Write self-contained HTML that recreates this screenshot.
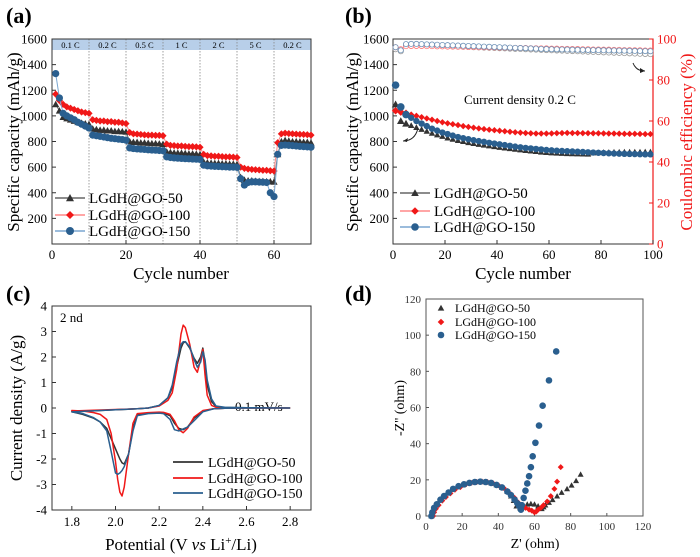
<!DOCTYPE html>
<html><head><meta charset="utf-8"><style>
body{margin:0;background:#fff}
svg,svg text{display:block;font-family:"Liberation Serif","Times New Roman",serif}
</style></head><body>
<svg id="fig" width="700" height="557" viewBox="0 0 700 557" xmlns="http://www.w3.org/2000/svg" font-family="Liberation Serif, serif"></svg>
<script>
// ---------- Panel (a) data ----------
const aCycles=[1,2,3,4,5,6,7,8,9,10,11,12,13,14,15,16,17,18,19,20,21,22,23,24,25,26,27,28,29,30,31,32,33,34,35,36,37,38,39,40,41,42,43,44,45,46,47,48,49,50,51,52,53,54,55,56,57,58,59,60,61,62,63,64,65,66,67,68,69,70];
const aS50=[1090,1040,990,980,970,960,950,945,940,935,900,895,890,890,885,885,880,880,878,875,800,795,795,790,790,788,785,785,783,780,720,715,712,710,710,708,705,705,703,700,640,635,632,630,630,628,628,625,625,622,520,500,495,495,492,490,490,488,488,485,700,800,810,805,800,800,798,795,795,790];
const aS100=[1170,1120,1090,1070,1060,1050,1040,1030,1025,1020,970,965,960,960,955,955,950,950,945,940,870,860,858,855,852,850,850,848,848,845,780,770,768,765,765,762,760,760,758,755,700,690,688,685,685,682,680,680,678,675,600,590,585,582,580,578,575,575,572,570,790,860,865,862,860,858,856,855,853,850];
const aS150=[1330,1140,1020,1000,985,970,950,935,920,905,850,845,840,835,830,825,822,818,815,810,750,745,742,740,738,735,733,732,730,728,680,675,672,670,668,666,665,663,662,660,615,610,608,606,605,603,602,600,600,598,510,460,480,485,485,483,482,480,400,370,700,770,772,770,768,765,762,760,758,755];
const aRates=["0.1 C","0.2 C","0.5 C","1 C","2 C","5 C","0.2 C"];
const aXTicks=[0,20,40,60];
const capTicks=[200,400,600,800,1000,1200,1400,1600];
// ---------- Panel (b) data ----------
const bCycles=[1,3,5,7,9,11,13,15,17,19,21,23,25,27,29,31,33,35,37,39,41,43,45,47,49,51,53,55,57,59,61,63,65,67,69,71,73,75,77,79,81,83,85,87,89,91,93,95,97,99];
const bS50=[1090,960,940,925,910,895,880,865,852,840,828,818,808,800,792,785,778,772,766,760,755,750,745,740,735,730,726,722,718,715,712,710,708,706,705,704,703,702,712,714,716,716,717,717,718,718,718,718,719,719];
const bS100=[1040,1030,1020,1010,1000,990,980,970,960,950,942,935,928,920,914,908,902,897,892,888,884,880,876,872,869,866,864,862,862,862,863,865,866,867,866,866,865,865,864,864,863,862,862,861,860,860,860,859,858,858];
const bS150=[1240,1070,1010,985,960,940,920,900,885,870,858,846,835,826,818,810,803,797,790,784,778,772,766,760,755,750,746,742,738,734,731,728,726,724,722,720,718,716,714,712,710,708,706,705,704,703,702,701,700,700];
const bCE50=[95,94,97,97.2,97.2,97,96.9,96.8,96.7,96.6,96.5,96.4,96.3,96.2,96.1,96,95.9,95.8,95.7,95.6,95.5,95.4,95.3,95.2,95.1,95,94.9,94.8,94.7,94.6,94.5,94.4,94.3,94.2,94.1,94,93.9,93.8,93.7,93.6,93.5,93.4,93.3,93.2,93.1,93,92.9,92.8,92.7,92.6];
const bCE100=[96,95,96.5,96.6,96.6,96.6,96.5,96.5,96.4,96.4,96.3,96.3,96.2,96.2,96.1,96.1,96,96,95.9,95.9,95.8,95.8,95.7,95.7,95.6,95.6,95.5,95.5,95.4,95.4,95.3,95.3,95.2,95.2,95.1,95.1,95,95,94.9,94.9,94.8,94.8,94.7,94.7,94.6,94.6,94.5,94.5,94.4,94.4];
const bCE150=[96,94.5,97.5,97.6,97.6,97.5,97.4,97.3,97.2,97.1,97,96.9,96.8,96.7,96.6,96.5,96.4,96.3,96.2,96.1,96,95.9,95.8,95.7,95.6,95.5,95.4,95.3,95.2,95.1,95,94.95,94.9,94.85,94.8,94.75,94.7,94.65,94.6,94.55,94.5,94.45,94.4,94.35,94.3,94.25,94.2,94.15,94.1,94.05];
const bXTicks=[0,20,40,60,80,100];
const ceTicks=[0,20,40,60,80,100];
// ---------- Panel (c) data ----------
const cCathV=[2.8,2.6,2.5,2.45,2.4,2.36,2.33,2.31,2.29,2.27,2.25,2.22,2.2,2.15,2.1,2.08,2.06,2.04,2.03,2.02,2.01,2.0,1.98,1.96,1.93,1.9,1.85,1.8];
const cCath50=[0,0,-0.01,-0.03,-0.12,-0.4,-0.75,-0.85,-0.8,-0.6,-0.3,-0.2,-0.18,-0.2,-0.25,-0.8,-1.8,-2.2,-2.15,-2.0,-1.8,-1.6,-1.2,-0.8,-0.55,-0.4,-0.25,-0.15];
const cCath100=[0,0,-0.01,-0.03,-0.1,-0.35,-0.8,-0.97,-0.85,-0.5,-0.25,-0.17,-0.16,-0.18,-0.22,-0.6,-1.8,-3.1,-3.45,-3.3,-2.8,-2.1,-1.0,-0.45,-0.25,-0.18,-0.12,-0.1];
const cCath150=[0,0,-0.01,-0.03,-0.15,-0.5,-0.75,-0.82,-0.9,-0.85,-0.45,-0.22,-0.2,-0.22,-0.3,-0.9,-1.8,-2.3,-2.45,-2.55,-2.6,-2.55,-1.7,-0.9,-0.55,-0.38,-0.22,-0.15];
const cAnodV=[1.8,2.0,2.1,2.15,2.2,2.24,2.26,2.28,2.3,2.31,2.32,2.34,2.36,2.375,2.39,2.4,2.41,2.42,2.44,2.46,2.5,2.6,2.8];
const cAnod50=[-0.15,-0.07,-0.03,0,0.1,0.4,0.8,1.6,2.35,2.55,2.6,2.35,1.95,1.75,2.0,2.35,1.8,0.9,0.25,0.06,0.02,0.01,0];
const cAnod100=[-0.12,-0.06,-0.03,0,0.08,0.3,0.6,1.5,2.9,3.25,3.15,2.5,1.6,1.4,1.9,2.3,1.3,0.5,0.1,0.03,0.01,0.01,0];
const cAnod150=[-0.15,-0.07,-0.03,0,0.1,0.4,0.9,1.8,2.5,2.6,2.6,2.4,1.9,1.6,1.8,2.2,1.9,1.1,0.35,0.08,0.03,0.01,0];
const cXTicks=[1.8,2.0,2.2,2.4,2.6,2.8];
const cYTicks=[-4,-3,-2,-1,0,1,2,3,4];
// ---------- Panel (d) data ----------
const d150Re=[3,3.5,4.5,6,8,10,12.5,15,18,21,24,27,30,33,36,39,42,45,47,49,50.5,51.5,52.5,53,54,55,56,57,58,59,60.5,62.5,64.5,68,72];
const d150Im=[0,2,4.5,6.5,9,11,13,15,16.5,17.5,18.3,18.8,19,18.8,18.3,17.2,15.8,13.5,11.5,9,7,5.5,3.5,6,10,14,18,22,27,33,40.5,50,61,75,91];
const d100Re=[4,4.5,5.5,7,9,11,13.5,16,19,22,25,28,31,34,37,40,43,45,47,49,51,53,55,57,58.5,60,61,62,63.5,65,67,69,71,72.5,74.5];
const d100Im=[0,2,4,6,8.5,10.5,12.5,14.5,16,17.5,18.3,18.8,19,18.8,18.2,17,15.5,13.8,12,10,7.5,5.5,4.5,3.5,3,2,2.5,3.5,4.5,6,8,11,15,19,27];
const d50Re=[3,3.5,4.5,6,8,10,12.5,15,18,21,24,27,30,33,36,39,42,45,47,48.5,50,52,54,56,58,60,62,64,65,66,68,70,72.5,75,78,80.5,83,85.5];
const d50Im=[0,2,4.5,6.5,9,11,13,15,16.5,17.5,18.3,18.8,19,18.8,18.3,17.2,15.8,13.5,11,8.5,5.5,4.5,5.5,6.5,6.8,6.5,5.5,4,5,6,7.5,9,11,13,15,17,19.5,23];
const dTicks=[0,20,40,60,80,100,120];

const NS="http://www.w3.org/2000/svg";
const svg=document.getElementById('fig');
function el(tag,attrs,parent,text){const e=document.createElementNS(NS,tag);for(const k in attrs)e.setAttribute(k,attrs[k]);if(tag==='text')e.setAttribute('font-family','Liberation Serif, serif');if(text!==undefined)e.textContent=text;(parent||svg).appendChild(e);return e;}
function grp(name){const g=el('g',{});return g;}
function lin(d0,d1,r0,r1){return v=>r0+(v-d0)*(r1-r0)/(d1-d0);}
function marker(g,type,x,y,r,fill,stroke){
  if(type==='tri') return el('path',{d:`M${x} ${y-r} L${x+r} ${y+r*0.8} L${x-r} ${y+r*0.8}Z`,fill:fill,stroke:stroke||'none','stroke-width':0.6},g);
  if(type==='dia') return el('path',{d:`M${x} ${y-r} L${x+r} ${y} L${x} ${y+r} L${x-r} ${y}Z`,fill:fill,stroke:stroke||'none','stroke-width':0.6},g);
  return el('circle',{cx:x,cy:y,r:r,fill:fill,stroke:stroke||'none','stroke-width':0.8},g);
}
const BLK='#333333',RED='#f01818',BLU='#2a5f8f';

// ===== Panel (a) =====
(function(){
 const g=grp('panel-a');
 const X=lin(0,70,52,311),Y=lin(0,1600,244,39);
 el('text',{x:6,y:23,'font-size':22,'font-weight':'bold'},g,'(a)');
 el('rect',{x:52,y:39,width:259,height:11,fill:'#b8cfe9'},g);
 for(let i=1;i<7;i++){el('line',{x1:X(i*10),x2:X(i*10),y1:39,y2:244,stroke:'#888','stroke-dasharray':'1.5,1.5','stroke-width':0.8},g);}
 aRates.forEach((t,i)=>{const tx=el('text',{x:X(i*10+5),y:48,'font-size':8.5,'text-anchor':'middle'},g,t);});
 el('rect',{x:52,y:39,width:259,height:205,fill:'none',stroke:'#333','stroke-width':1},g);
 capTicks.forEach(v=>{el('line',{x1:52,x2:56,y1:Y(v),y2:Y(v),stroke:'#333'},g);el('text',{x:47,y:Y(v)+4.5,'font-size':13,'text-anchor':'end'},g,v);});
 aXTicks.forEach(v=>{el('line',{x1:X(v),x2:X(v),y1:244,y2:240,stroke:'#333'},g);el('text',{x:X(v),y:259,'font-size':13,'text-anchor':'middle'},g,v);});
 const yt=el('text',{x:0,y:0,'font-size':17,'text-anchor':'middle',transform:`translate(19,142) rotate(-90)`},g,'Specific capacity (mAh/g)');
 const xt=el('text',{x:181,y:279,'font-size':17,'text-anchor':'middle'},g,'Cycle number');
 [[aS50,BLK,'tri','#666'],[aS100,RED,'dia','#f88'],[aS150,BLU,'circ','#7aa6d0']].forEach(([s,c,m,lc])=>{
  const sg=el('g',{},g);
  el('polyline',{points:aCycles.map((x,i)=>X(x)+','+Y(s[i])).join(' '),fill:'none',stroke:lc,'stroke-width':1},sg);
  aCycles.forEach((x,i)=>{const mk=marker(sg,m,X(x),Y(s[i]),3.6,c);});
 });
 [['LGdH@GO-50',BLK,'tri','#666',198],['LGdH@GO-100',RED,'dia','#f88',215],['LGdH@GO-150',BLU,'circ','#7aa6d0',231]].forEach(([t,c,m,lc,y])=>{
  const lg=el('g',{},g);
  el('line',{x1:55,x2:85,y1:y,y2:y,stroke:lc,'stroke-width':1.5},lg);marker(lg,m,70,y,4,c);
  el('text',{x:89,y:y+5,'font-size':15},lg,t);
 });
})();

// ===== Panel (b) =====
(function(){
 const g=grp('panel-b');
 const X=lin(0,100,393,653),Y=lin(0,1600,244,39),Y2=lin(0,100,244,39);
 el('text',{x:345,y:23,'font-size':22,'font-weight':'bold'},g,'(b)');
 el('rect',{x:393,y:39,width:260,height:205,fill:'none',stroke:'#333','stroke-width':1},g);
 el('line',{x1:653,x2:653,y1:39,y2:244,stroke:RED,'stroke-width':1.2},g);
 capTicks.forEach(v=>{el('line',{x1:393,x2:397,y1:Y(v),y2:Y(v),stroke:'#333'},g);el('text',{x:389,y:Y(v)+4.5,'font-size':13,'text-anchor':'end'},g,v);});
 ceTicks.forEach(v=>{el('line',{x1:649,x2:653,y1:Y2(v),y2:Y2(v),stroke:RED},g);el('text',{x:657,y:Y2(v)+4.5,'font-size':13,fill:RED},g,v);});
 bXTicks.forEach(v=>{el('line',{x1:X(v),x2:X(v),y1:244,y2:240,stroke:'#333'},g);el('text',{x:X(v),y:259,'font-size':13,'text-anchor':'middle'},g,v);});
 const yt=el('text',{x:0,y:0,'font-size':17,'text-anchor':'middle',transform:`translate(358,142) rotate(-90)`},g,'Specific capacity (mAh/g)');
 const yt2=el('text',{x:0,y:0,'font-size':17,'text-anchor':'middle',fill:RED,transform:`translate(692,142) rotate(-90)`},g,'Coulombic efficiency (%)');
 const xt=el('text',{x:523,y:279,'font-size':17,'text-anchor':'middle'},g,'Cycle number');
 [[bCE50,'#999'],[bCE100,'#f77'],[bCE150,'#6f93b8']].forEach(([s,c])=>{
  const sg=el('g',{},g);
  bCycles.forEach((x,i)=>{const mk=el('circle',{cx:X(x),cy:Y2(s[i]),r:2.6,fill:'#fff',stroke:c,'stroke-width':0.8},sg);});
 });
 [[bS100,RED,'dia'],[bS50,BLK,'tri'],[bS150,BLU,'circ']].forEach(([s,c,m])=>{
  const sg=el('g',{},g);
  bCycles.forEach((x,i)=>{const mk=marker(sg,m,X(x),Y(s[i]),i<3?3.8:3.2,c);});
 });
 const an=el('text',{x:464,y:104,'font-size':13},g,'Current density 0.2 C');
 el('path',{d:'M418 128 Q415 141 403 141',fill:'none',stroke:'#222','stroke-width':1},g);
 el('path',{d:'M403 141 l5 -3 l-1 4z',fill:'#222'},g);
 el('path',{d:'M633 63 Q636 71 645 71',fill:'none',stroke:'#222','stroke-width':1},g);
 el('path',{d:'M645 71 l-5 -3 l0 5z',fill:'#222'},g);
 [['LGdH@GO-50',BLK,'tri','#666',193],['LGdH@GO-100',RED,'dia','#f88',211],['LGdH@GO-150',BLU,'circ','#7aa6d0',227]].forEach(([t,c,m,lc,y])=>{
  const lg=el('g',{},g);
  el('line',{x1:400,x2:430,y1:y,y2:y,stroke:lc,'stroke-width':1.5},lg);marker(lg,m,415,y,3.8,c);
  el('text',{x:434,y:y+5,'font-size':15},lg,t);
 });
})();

// ===== Panel (c) =====
(function(){
 const g=grp('panel-c');
 const X=lin(1.7,2.9,50,312),Y=lin(-4,4,510,306);
 el('text',{x:6,y:301,'font-size':22,'font-weight':'bold'},g,'(c)');
 el('rect',{x:52,y:306,width:259,height:204,fill:'none',stroke:'#333','stroke-width':1},g);
 cYTicks.forEach(v=>{el('line',{x1:52,x2:56,y1:Y(v),y2:Y(v),stroke:'#333'},g);el('text',{x:47,y:Y(v)+4.5,'font-size':13,'text-anchor':'end'},g,v);});
 cXTicks.forEach(v=>{el('line',{x1:X(v),x2:X(v),y1:510,y2:506,stroke:'#333'},g);el('text',{x:X(v),y:526,'font-size':13,'text-anchor':'middle'},g,v.toFixed(1));});
 const yt=el('text',{x:0,y:0,'font-size':17,'text-anchor':'middle',transform:`translate(22,408) rotate(-90)`},g,'Current density (A/g)');
 const xt=el('text',{x:181,y:550,'font-size':17,'text-anchor':'middle'},g);
 el('tspan',{},xt,'Potential (V ');el('tspan',{'font-style':'italic'},xt,'vs');el('tspan',{},xt,' Li');el('tspan',{'font-size':11,dy:-6},xt,'+');el('tspan',{dy:6},xt,'/Li)');
 el('text',{x:60,y:322,'font-size':13},g,'2 nd');
 el('text',{x:235,y:411,'font-size':13},g,'0.1 mV/s');
 [[cCath50,cAnod50,BLK],[cCath100,cAnod100,RED],[cCath150,cAnod150,BLU]].forEach(([ca,an,c])=>{
  const pts=cCathV.map((v,i)=>X(v)+','+Y(ca[i])).concat(cAnodV.map((v,i)=>X(v)+','+Y(an[i])));
  const p=el('polyline',{points:pts.join(' '),fill:'none',stroke:c,'stroke-width':1.5,'stroke-linejoin':'round'},g);
  
 });
 [['LGdH@GO-50',BLK,462],['LGdH@GO-100',RED,478],['LGdH@GO-150',BLU,493]].forEach(([t,c,y])=>{
  const lg=el('g',{},g);
  el('line',{x1:173,x2:203,y1:y,y2:y,stroke:c,'stroke-width':1.8},lg);
  el('text',{x:208,y:y+5,'font-size':14},lg,t);
 });
})();

// ===== Panel (d) =====
(function(){
 const g=grp('panel-d');
 const X=lin(0,120,426,643),Y=lin(0,120,516,299);
 el('text',{x:345,y:301,'font-size':22,'font-weight':'bold'},g,'(d)');
 el('rect',{x:426,y:299,width:217,height:217,fill:'none',stroke:'#555','stroke-width':1},g);
 dTicks.forEach(v=>{
  el('line',{x1:426,x2:429,y1:Y(v),y2:Y(v),stroke:'#555'},g);el('text',{x:421,y:Y(v)+4,'font-size':11,'text-anchor':'end',fill:'#333'},g,v);
  el('line',{x1:X(v),x2:X(v),y1:516,y2:513,stroke:'#555'},g);el('text',{x:X(v),y:530,'font-size':11,'text-anchor':'middle',fill:'#333'},g,v);
 });
 const yt=el('text',{x:0,y:0,'font-size':14,'text-anchor':'middle',transform:`translate(404,408) rotate(-90)`},g,"-Z'' (ohm)");
 const xt=el('text',{x:535,y:548,'font-size':14,'text-anchor':'middle'},g,"Z' (ohm)");
 [[d50Re,d50Im,BLK,'tri'],[d100Re,d100Im,RED,'dia'],[d150Re,d150Im,BLU,'circ']].forEach(([re,im,c,m])=>{
  const sg=el('g',{},g);
  re.forEach((x,i)=>{const mk=marker(sg,m,X(x),Y(im[i]),m==='circ'?3.3:3,c);});
 });
 [['LGdH@GO-50',BLK,'tri',308],['LGdH@GO-100',RED,'dia',322],['LGdH@GO-150',BLU,'circ',335]].forEach(([t,c,m,y])=>{
  const lg=el('g',{},g);
  marker(lg,m,441,y,3.3,c);el('text',{x:455,y:y+4,'font-size':12},lg,t);
 });
})();
</script>
</body></html>
